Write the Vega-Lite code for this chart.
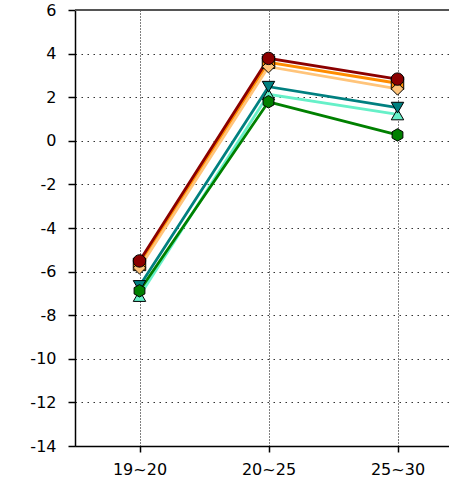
{
  "$schema": "https://vega.github.io/schema/vega-lite/v6.json",
  "width": 387,
  "height": 436,
  "autosize": {"type": "none"},
  "padding": {"left": 75, "top": 10, "right": 0, "bottom": 34},
  "background": "white",
  "config": {
    "view": {"stroke": null},
    "axis": {"labelFont": "DejaVu Sans", "labelFontSize": 16, "labelColor": "#000", "title": null}
  },
  "data": {
    "values": [
      {"series": "orange", "age": "19~20", "v": -5.67},
      {"series": "orange", "age": "20~25", "v": 3.6},
      {"series": "orange", "age": "25~30", "v": 2.64},
      {"series": "lightorange", "age": "19~20", "v": -5.83},
      {"series": "lightorange", "age": "20~25", "v": 3.4},
      {"series": "lightorange", "age": "25~30", "v": 2.38},
      {"series": "darkred", "age": "19~20", "v": -5.51},
      {"series": "darkred", "age": "20~25", "v": 3.78},
      {"series": "darkred", "age": "25~30", "v": 2.83},
      {"series": "aqua", "age": "19~20", "v": -7.12},
      {"series": "aqua", "age": "20~25", "v": 2.13},
      {"series": "aqua", "age": "25~30", "v": 1.21},
      {"series": "teal", "age": "19~20", "v": -6.66},
      {"series": "teal", "age": "20~25", "v": 2.48},
      {"series": "teal", "age": "25~30", "v": 1.52},
      {"series": "green", "age": "19~20", "v": -6.88},
      {"series": "green", "age": "20~25", "v": 1.79},
      {"series": "green", "age": "25~30", "v": 0.27}
    ]
  },
  "layer": [
    {
      "mark": {"type": "rule", "color": "#555555", "strokeWidth": 2},
      "encoding": {"y": {"datum": 6, "type": "quantitative", "scale": {"domain": [-14, 6], "nice": false}}}
    },
    {
      "mark": {"type": "line", "strokeWidth": 2.8},
      "encoding": {
        "x": {"field": "age", "type": "ordinal", "sort": null, "scale": {"type": "point", "padding": 0.5},
          "axis": {"labelAngle": 0, "grid": true, "gridColor": "#000", "gridDash": [1, 2], "gridWidth": 1, "domainColor": "#000", "domainWidth": 1.5, "tickColor": "#000", "tickSize": 6, "tickWidth": 1.5, "labelPadding": 9}},
        "y": {"field": "v", "type": "quantitative", "scale": {"domain": [-14, 6], "nice": false},
          "axis": {"values": [-14, -12, -10, -8, -6, -4, -2, 0, 2, 4, 6], "labelExpr": "datum.value + ''", "grid": true, "gridColor": "#333", "gridDash": [1.5, 4.5], "gridWidth": 1, "domainColor": "#000", "domainWidth": 1.5, "tickColor": "#000", "tickSize": 7, "tickWidth": 1.5, "labelPadding": 12}},
        "color": {"field": "series", "type": "nominal", "legend": null,
          "scale": {"domain": ["orange", "lightorange", "darkred", "aqua", "teal", "green"], "range": ["#FF8C00", "#FFC47A", "#8B0000", "#66F0C8", "#008080", "#008000"]}},
        "detail": {"field": "series"}
      }
    },
    {
      "mark": {"type": "point", "filled": true, "size": 155, "stroke": "#000", "strokeWidth": 1, "opacity": 1},
      "encoding": {
        "x": {"field": "age", "type": "ordinal", "sort": null},
        "y": {"field": "v", "type": "quantitative"},
        "color": {"field": "series", "type": "nominal", "legend": null},
        "shape": {"field": "series", "type": "nominal", "legend": null,
          "scale": {"domain": ["orange", "lightorange", "darkred", "aqua", "teal", "green"], "range": ["square", "diamond", "circle", "triangle-up", "triangle-down", "M0,-1L0.866,-0.5L0.866,0.5L0,1L-0.866,0.5L-0.866,-0.5Z"]}}
      }
    }
  ]
}
